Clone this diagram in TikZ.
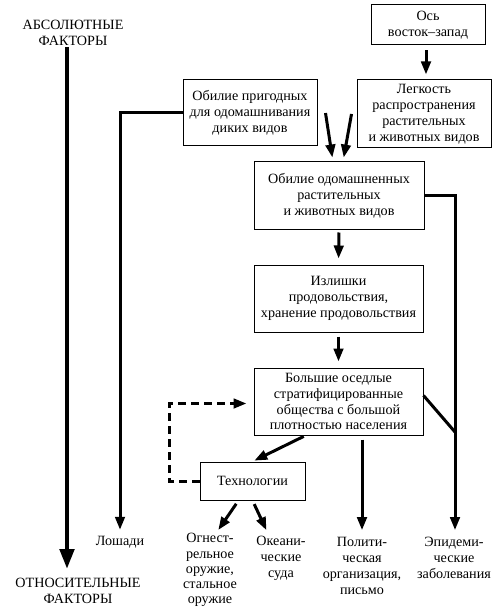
\documentclass[tikz,border=0pt]{standalone}
\usepackage{fontspec}
\setmainfont{Liberation Serif}
\usetikzlibrary{arrows.meta}
\begin{document}
\begin{tikzpicture}[x=1bp,y=-1bp,
			box/.style={draw,line width=1bp,align=center,inner sep=0pt},
			lab/.style={align=center,inner sep=0pt},
			arr/.style={line width=3bp,-{Triangle[length=13bp,width=9.5bp]}},
			big/.style={line width=4.6bp,-{Triangle[length=20bp,width=14bp]}},
			plain/.style={line width=3bp},
			dsh/.style={line width=3bp,dash pattern=on 8bp off 5bp,-{Triangle[length=13bp,width=9.5bp]}},
			font=\fontsize{14.2}{16}\selectfont]
			\useasboundingbox (0,0) rectangle (500,610);
			\node [lab]	(abs)	at (73,33)	{АБСОЛЮТНЫЕ\\ФАКТОРЫ};
			\node [lab]	(otn)	at (78,591)	{ОТНОСИТЕЛЬНЫЕ\\ФАКТОРЫ};
			\draw [big,shorten <=1bp,shorten >=9bp] ([xshift=-6bp]abs.south) -- ([xshift=-6bp]abs.south |- otn.north);
			\node [box,minimum width=114bp,minimum height=40bp]	(os)	at (428,25)	{Ось\\восток–запад};
			\node [box,minimum width=134bp,minimum height=68bp]	(legk)	at (424,114)	{Легкость\\распространения\\растительных\\и животных видов};
			\node [box,minimum width=134bp,minimum height=66bp]	(obil)	at (250,113)	{Обилие пригодных\\для одомашнивания\\диких видов};
			\node [box,minimum width=170bp,minimum height=67bp]	(odom)	at (339,195.5)	{Обилие одомашненных\\растительных\\и животных видов};
			\node [box,minimum width=169bp,minimum height=67bp]	(izl)	at (338.5,298.5)	{Излишки\\продовольствия,\\хранение продовольствия};
			\node [box,minimum width=169bp,minimum height=67bp]	(bolsh)	at (338.5,401.5)	{Большие оседлые\\стратифицированные\\общества с большой\\плотностью населения};
			\node [box,minimum width=105bp,minimum height=38bp]	(tech)	at (252.5,481)	{Технологии};
			\node [lab]	(loshadi)	at (120,542)	{Лошади};
			\node [lab,font=\fontsize{14.2}{15.2}\selectfont]	(ogn)	at (210,570)	{Огнест-\\рельное\\оружие,\\стальное\\оружие};
			\node [lab]	(okean)	at (281,558)	{Океани-\\ческие\\суда};
			\node [lab]	(polit)	at (362,566)	{Полити-\\ческая\\организация,\\письмо};
			\node [lab]	(epid)	at (454,558)	{Эпидеми-\\ческие\\заболевания};
			\coordinate (join) at (455,432);
			\coordinate (dc) at (169,481);
			\draw [arr,shorten <=5bp,shorten >=5bp] ([xshift=-2bp]os.south) -- ([xshift=-2bp]os.south |- legk.north);
			\draw [arr,shorten >=6bp] (obil.west) -| (loshadi.north);
			\draw [arr,shorten >=4bp] ([xshift=8bp]obil.east) -- ([xshift=-6bp]odom.north);
			\draw [arr,shorten >=4bp] ([xshift=-5bp]legk.west) -- ([xshift=4bp]odom.north);
			\draw [arr,shorten >=7bp] (odom.east) -| (join) -- (join |- epid.north);
			\draw [arr,shorten <=3bp,shorten >=6bp] (odom.south) -- (izl.north);
			\draw [arr,shorten <=4bp,shorten >=6bp] (izl.south) -- (bolsh.north);
			\draw [plain] ([yshift=6bp]bolsh.east) -- (join);
			\draw [arr,shorten <=2bp,shorten >=2bp] ([xshift=-33bp]bolsh.south) -- (tech.north);
			\draw [arr,shorten <=4bp,shorten >=7bp] (bolsh.south -| polit.north) -- (polit.north);
			\draw [dsh,shorten >=7bp] (tech.west) -- (dc) |- ([yshift=-2bp]bolsh.west);
			\draw [arr,shorten <=4bp,shorten >=4bp] ([xshift=-14bp]tech.south) -- ([xshift=6bp]ogn.north);
			\draw [arr,shorten <=4bp,shorten >=6bp] ([xshift=0bp]tech.south) -- ([xshift=-12bp]okean.north);
		\end{tikzpicture}
\end{document}
